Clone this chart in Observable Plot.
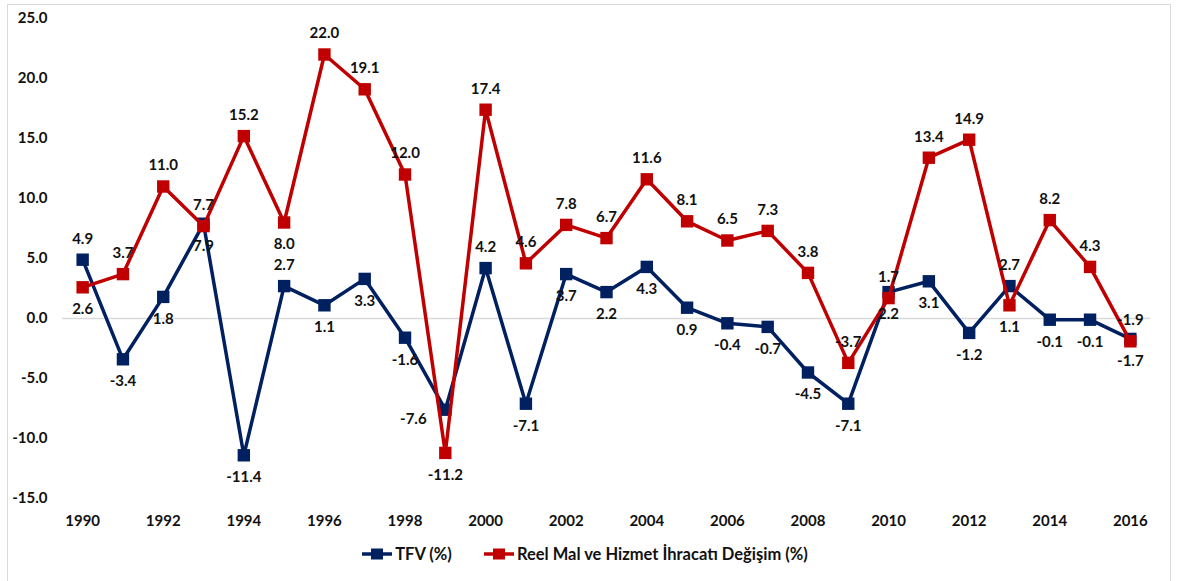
<!DOCTYPE html>
<html>
<head>
<meta charset="utf-8">
<script src="https://cdn.jsdelivr.net/npm/d3@7"></script>
<script src="https://cdn.jsdelivr.net/npm/@observablehq/plot@0.6"></script>
<style>
  body { margin: 0; background: #fff; font-family: Lato, "Open Sans", sans-serif; }
  #frame { position: absolute; left: 7px; top: 4px; width: 1162px; height: 600px; border: 1px solid #d9d9d9; border-bottom: none; }
  #chart { position: absolute; left: 0; top: 0; width: 1184px; }
  #legend { height: 28px; display: flex; justify-content: center; align-items: center; gap: 32px; font-weight: bold; font-size: 16.5px; color: #111; padding-right: 14px; }
  #legend .item { display: flex; align-items: center; gap: 3px; }
</style>
</head>
<body>
<div id="frame"></div>
<div id="chart"></div>
<script>
const years = [1990,1991,1992,1993,1994,1995,1996,1997,1998,1999,2000,2001,2002,2003,2004,2005,2006,2007,2008,2009,2010,2011,2012,2013,2014,2015,2016];
const tfv = [4.9,-3.4,1.8,7.9,-11.4,2.7,1.1,3.3,-1.6,-7.6,4.2,-7.1,3.7,2.2,4.3,0.9,-0.4,-0.7,-4.5,-7.1,2.2,3.1,-1.2,2.7,-0.1,-0.1,-1.7];
const ihracat = [2.6,3.7,11.0,7.7,15.2,8.0,22.0,19.1,12.0,-11.2,17.4,4.6,7.8,6.7,11.6,8.1,6.5,7.3,3.8,-3.7,1.7,13.4,14.9,1.1,8.2,4.3,-1.9];
// label placement per point (as in the original's data labels)
const tfvLabelSide = ["above","below","below","below","below","above","below","below","below","left","above","below","below","below","below","below","below","below","below","below","below","below","below","above","below","below","below"];
const ihracatLabelSide = ["below","above","above","above","above","below","above","above","above","below","above","above","above","above","above","above","above","above","above","above","above","above","above","below","above","above","above"];
const seriesNames = ["TFV (%)", "Reel Mal ve Hizmet İhracatı Değişim (%)"];
const xTicks = [1990,1992,1994,1996,1998,2000,2002,2004,2006,2008,2010,2012,2014,2016];
const yTicks = [-15,-10,-5,0,5,10,15,20,25];

const colors = ["#002060", "#C00000"];
const rowsT = years.map((y, i) => ({year: y, value: tfv[i], side: tfvLabelSide[i]}));
const rowsR = years.map((y, i) => ({year: y, value: ihracat[i], side: ihracatLabelSide[i]}));
const allRows = rowsT.concat(rowsR);
const fmt = d => d.toFixed(1);

const plot = Plot.plot({
  width: 1184,
  height: 540,
  marginLeft: 62,
  marginRight: 34,
  marginTop: 18,
  marginBottom: 42,
  style: { fontFamily: "Lato, 'Open Sans', sans-serif", fontWeight: "bold", fontSize: "15px", color: "#111", background: "transparent" },
  x: { domain: [1989.5, 2016.5] },
  y: { domain: [-15, 25] },
  marks: [
    Plot.ruleY([0], { stroke: "#d9d9d9", strokeWidth: 1.5 }),
    Plot.axisX(xTicks, { tickSize: 0, tickPadding: 17, tickFormat: d => String(d), label: null }),
    Plot.axisY(yTicks, { tickSize: 0, tickPadding: 15, tickFormat: fmt, label: null }),
    Plot.line(rowsT, { x: "year", y: "value", stroke: colors[0], strokeWidth: 3.5 }),
    Plot.dot(rowsT, { x: "year", y: "value", symbol: "square", r: 7, fill: colors[0], stroke: "none" }),
    Plot.line(rowsR, { x: "year", y: "value", stroke: colors[1], strokeWidth: 3.5 }),
    Plot.dot(rowsR, { x: "year", y: "value", symbol: "square", r: 7, fill: colors[1], stroke: "none" }),
    Plot.text(allRows.filter(d => d.side === "above"), { x: "year", y: "value", text: d => fmt(d.value), dy: -21, fill: "#111" }),
    Plot.text(allRows.filter(d => d.side === "below"), { x: "year", y: "value", text: d => fmt(d.value), dy: 22, fill: "#111" }),
    Plot.text(allRows.filter(d => d.side === "left"), { x: "year", y: "value", text: d => fmt(d.value), dx: -32, dy: 9, fill: "#111" })
  ]
});

const chart = document.getElementById("chart");
chart.appendChild(plot);

const legend = document.createElement("div");
legend.id = "legend";
seriesNames.forEach((name, i) => {
  const item = document.createElement("div");
  item.className = "item";
  item.innerHTML = `<svg width="30" height="14"><line x1="0" x2="30" y1="7" y2="7" stroke="${colors[i]}" stroke-width="3.5"/><rect x="9" y="1.5" width="12" height="11" fill="${colors[i]}"/></svg><span>${name}</span>`;
  legend.appendChild(item);
});
chart.appendChild(legend);
</script>
</body>
</html>
